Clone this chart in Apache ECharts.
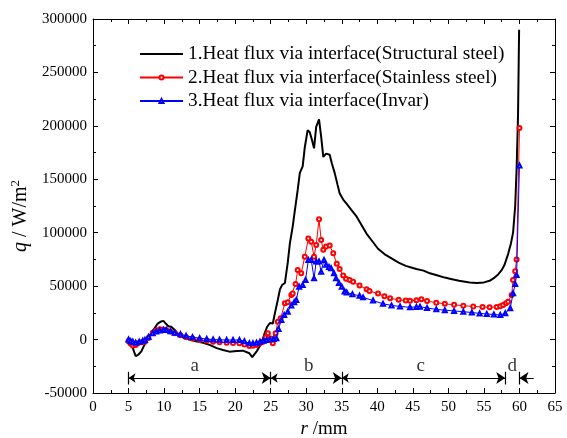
<!DOCTYPE html>
<html><head><meta charset="utf-8">
<script src="https://cdn.jsdelivr.net/npm/echarts@6/dist/echarts.min.js"></script>
<style>html,body{margin:0;padding:0;background:#fff}#c{width:567px;height:438px}</style>
</head><body><div id="c"></div>
<script>
// r (mm), q (W/m2)
const structural = [
[5.0,-1000],[5.3,-4000],[5.6,-8000],[6.0,-15500],[6.4,-14000],[6.8,-11000],[7.3,-4000],[7.8,2000],[8.2,6000],[8.7,11000],
[9.1,15000],[9.6,17000],[9.9,17500],[10.3,14500],[10.6,12500],[11.0,12000],[11.5,9000],[12.0,5000],[12.5,2500],[13.5,0],
[14.5,-1500],[15.5,-3000],[16.4,-5000],[17.4,-8000],[18.3,-9800],[19.2,-11300],[20.2,-10700],[21.1,-10400],[22.0,-12800],[22.4,-16500],
[23.0,-11300],[23.7,-3500],[24.1,5000],[24.5,12000],[24.9,15500],[25.3,15000],[25.6,25000],[26.0,37000],[26.3,47000],[26.6,51000],
[27.0,53000],[27.4,72000],[27.7,90000],[28.1,106000],[28.4,121000],[28.8,140000],[29.1,156000],[29.5,162000],[29.8,180000],[30.2,196000],
[30.5,194000],[30.8,187000],[31.1,179000],[31.4,199000],[31.8,206000],[32.1,190000],[32.4,171000],[32.8,174000],[33.3,173000],[33.6,165000],
[34.0,156000],[34.4,145000],[34.7,137000],[35.2,131000],[35.7,127000],[36.4,121000],[37.1,115000],[37.8,107000],[38.5,99000],[39.3,92000],
[40.1,85000],[41.0,80000],[42.0,76000],[43.0,72000],[44.0,69000],[45.0,67000],[45.5,66000],[46.5,64500],[47.4,62000],[48.5,60000],
[49.5,58000],[50.2,57000],[51.5,55000],[53.0,53500],[54.0,53000],[55.0,53500],[55.8,55000],[56.5,58000],[57.0,61000],[57.5,65000],
[57.9,70000],[58.4,80000],[58.8,90000],[59.1,100000],[59.4,125000],[59.6,160000],[59.8,210000],[59.95,290000]
];
const stainless = [
[5.0,-1500],[5.3,-4000],[5.6,-5500],[6.0,-5000],[6.3,-3500],[6.8,-2500],[7.3,-2000],[7.8,1500],[8.4,6500],[8.9,8500],
[9.4,9600],[9.9,9500],[10.3,9000],[10.9,7500],[11.5,6000],[12.3,4000],[13.1,2200],[14.0,1000],[15.0,-400],[16.0,-1200],
[16.9,-2000],[17.8,-2500],[18.8,-3000],[19.7,-3200],[20.6,-3500],[21.3,-4500],[22.0,-6000],[22.5,-5800],[23.0,-5000],[23.5,-3500],
[23.9,-2000],[24.3,2000],[24.6,6000],[25.0,1000],[25.3,-3500],[25.7,6000],[26.0,16700],[26.4,20000],[27.0,34000],[27.4,35000],
[27.9,41700],[28.1,43000],[28.5,52000],[28.8,65000],[29.3,62000],[29.8,77600],[30.3,94700],[30.7,91600],[31.1,77600],[31.4,88500],
[31.8,112500],[32.1,93200],[32.4,84000],[32.8,87000],[33.3,88000],[33.8,80700],[34.3,71000],[34.7,66000],[35.2,60000],[35.6,57000],
[36.1,55800],[36.6,54000],[37.5,50500],[38.5,47000],[38.9,45500],[40.1,43000],[41.0,40500],[41.8,38600],[43.0,37200],[44.0,36500],
[44.6,36300],[45.5,36800],[46.2,37700],[47.0,36000],[48.3,34500],[49.5,33500],[50.8,32500],[52.1,31700],[53.5,31000],[54.8,30500],
[55.8,30200],[56.8,30500],[57.3,31200],[57.7,32400],[58.1,34000],[58.4,35500],[58.9,41700],[59.1,55800],[59.4,64000],[59.6,75000],
[60.0,198000]
];
const invar = [
[5.0,0],[5.3,-1500],[5.6,-2000],[6.0,-3000],[6.5,-2000],[7.0,-1000],[7.3,-400],[7.8,2500],[8.4,6000],[8.9,7500],
[9.4,8400],[9.9,9000],[10.3,9000],[10.9,7800],[11.5,6500],[12.3,5000],[13.1,3500],[14.0,2300],[15.0,1300],[16.0,500],
[16.9,0],[17.8,-200],[18.8,-400],[19.7,-400],[20.6,-400],[21.3,-1500],[22.0,-3500],[22.5,-3500],[23.0,-3000],[23.5,-2000],
[24.0,-1000],[24.4,-400],[24.9,0],[25.4,500],[25.8,1300],[26.1,10000],[26.5,18300],[26.9,23000],[27.4,26000],[27.9,32000],
[28.3,35000],[28.6,37000],[29.0,49500],[29.5,51000],[29.9,55800],[30.3,74500],[30.7,74500],[31.1,57300],[31.4,73000],[31.8,73000],
[32.1,63500],[32.5,74500],[32.8,70000],[33.2,68000],[33.5,66700],[33.9,62000],[34.2,57300],[34.6,53000],[35.0,49500],[35.4,45000],
[35.7,44000],[36.5,42500],[37.5,41000],[38.0,39500],[39.4,36500],[40.8,33500],[42.0,32000],[43.2,31000],[44.6,30200],[45.5,30500],
[46.0,30800],[47.0,29500],[48.3,28300],[49.5,27500],[50.8,26800],[52.1,26100],[53.3,25300],[54.4,24500],[55.4,24000],[56.4,23500],
[57.3,23000],[58.0,24600],[58.7,29300],[59.1,43300],[59.4,52000],[59.6,60400],[60.0,163000]
];
const seriesNames = ['1.Heat flux via interface(Structural steel)','2.Heat flux via interface(Stainless steel)','3.Heat flux via interface(Invar)'];
// region annotations
const regionBounds = [5, 25, 35, 58, 60];
const regionLabels = [[14.3,-25000,'a'],[30.35,-25000,'b'],[46.1,-25000,'c'],[59.0,-25000,'d']];
const arrowY = -36000;

const FONT = 'Liberation Serif';
const chart = echarts.init(document.getElementById('c'));

const arrowSegs = [
  {coords:[[5,arrowY],[25,arrowY]], symbol:['arrow','arrow']},
  {coords:[[25,arrowY],[35,arrowY]], symbol:['arrow','arrow']},
  {coords:[[35,arrowY],[58,arrowY]], symbol:['arrow','arrow']},
  {coords:[[62,arrowY],[60,arrowY]], symbol:['none','arrow']}
];
const barSegs = regionBounds.map(b => ({coords:[[b,arrowY+6000],[b,arrowY-6000]]}));

const axisCommon = {
  axisLine:{show:true,onZero:false,lineStyle:{color:'#000',width:1}},
  splitLine:{show:false},
  axisTick:{show:true,inside:true,length:5,lineStyle:{color:'#000'}},
  minorTick:{show:true,splitNumber:2,length:3,lineStyle:{color:'#000'}}
};

chart.setOption({
  animation:false,
  backgroundColor:'#fff',
  grid:{left:93,right:12,top:19,bottom:45,containLabel:false,outerBoundsMode:'none'},
  legend:{
    data:[
      {name:seriesNames[0],itemStyle:{opacity:0}},
      {name:seriesNames[1]},
      {name:seriesNames[2]}
    ],
    orient:'vertical', left:134, top:39,
    itemWidth:43, itemHeight:5, itemGap:3.5,
    textStyle:{fontFamily:FONT,fontSize:19.3,color:'#000',lineHeight:20}
  },
  xAxis:[
    Object.assign({type:'value',min:0,max:65,interval:5,position:'bottom',
      name:'{i|r} /mm',nameLocation:'middle',nameGap:26,
      nameTextStyle:{fontFamily:FONT,fontSize:19,color:'#000',rich:{i:{fontFamily:FONT,fontSize:19,fontStyle:'italic',color:'#000'}}},
      axisLabel:{fontFamily:FONT,fontSize:15,color:'#000',margin:7}}, axisCommon),
    Object.assign({type:'value',min:0,max:65,interval:5,position:'top',axisLabel:{show:false}}, axisCommon)
  ],
  yAxis:[
    Object.assign({type:'value',min:-50000,max:300000,interval:50000,position:'left',
      name:'{i|q} / W/m{s|2}',nameLocation:'middle',nameGap:56,
      nameTextStyle:{fontFamily:FONT,fontSize:20,color:'#000',padding:[0,20,0,0],
        rich:{i:{fontFamily:FONT,fontSize:20,fontStyle:'italic',color:'#000'},
              s:{fontFamily:FONT,fontSize:13,color:'#000',padding:[0,0,11,0]}}},
      axisLabel:{fontFamily:FONT,fontSize:15,color:'#000',margin:6,formatter:v=>String(v)}}, axisCommon),
    Object.assign({type:'value',min:-50000,max:300000,interval:50000,position:'right',axisLabel:{show:false}}, axisCommon)
  ],
  series:[
    {name:seriesNames[0],type:'line',data:structural,showSymbol:false,symbol:'none',
     lineStyle:{color:'#000',width:2},itemStyle:{color:'#000'},z:2},
    {name:seriesNames[1],type:'line',data:stainless,symbol:'emptyCircle',symbolSize:4,
     lineStyle:{color:'#ff0000',width:1},itemStyle:{color:'#ff0000',borderWidth:1},z:3},
    {name:seriesNames[2],type:'line',data:invar,symbol:'emptyTriangle',symbolSize:4,
     lineStyle:{color:'#0000ff',width:1},itemStyle:{color:'#0000ff',borderWidth:1},z:4},
    {type:'lines',coordinateSystem:'cartesian2d',data:arrowSegs,symbolSize:[7,9],
     lineStyle:{color:'#000',width:1,opacity:1},z:5,silent:true},
    {type:'lines',coordinateSystem:'cartesian2d',data:barSegs,symbol:'none',
     lineStyle:{color:'#000',width:1.2,opacity:1},z:5,silent:true},
    {type:'scatter',data:regionLabels,symbolSize:0,silent:true,
     label:{show:true,position:'inside',formatter:p=>p.value[2],fontFamily:FONT,fontSize:19,color:'#000'},z:6}
  ]
});
</script></body></html>
